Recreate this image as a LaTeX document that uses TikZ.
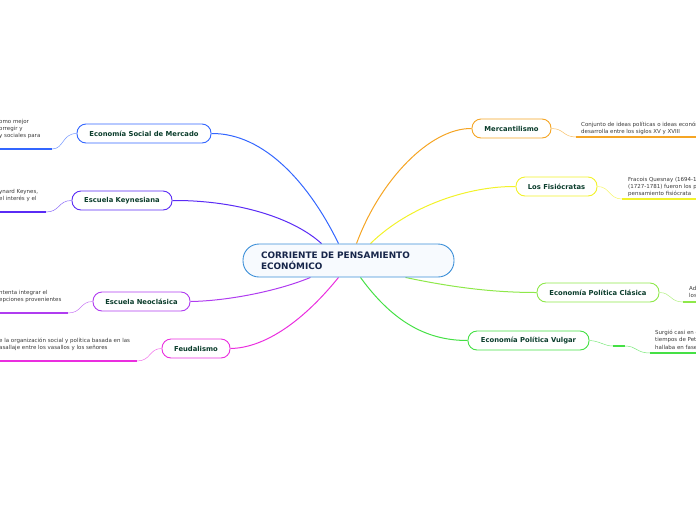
\documentclass[tikz,border=0pt]{standalone}
\usepackage{fontspec}
\setmainfont{DejaVu Sans}
\usetikzlibrary{backgrounds}
\definecolor{labgreen}{HTML}{0B3D2C}
\definecolor{navy}{HTML}{17264A}
\definecolor{leafgray}{HTML}{3A3A3A}
\definecolor{cblue}{HTML}{3C8FD8}
\definecolor{cfill}{HTML}{F7FAFE}
\definecolor{csoc}{HTML}{3366FF}
\definecolor{ckey}{HTML}{5A2BF5}
\definecolor{cneo}{HTML}{B03CF0}
\definecolor{cfeu}{HTML}{EA2EDF}
\definecolor{cmer}{HTML}{F5A524}
\definecolor{cfis}{HTML}{F2F22A}
\definecolor{ccla}{HTML}{8EE84A}
\definecolor{cvul}{HTML}{45E045}
\begin{document}
\begin{tikzpicture}[x=1pt,y=-1pt,
  topic/.style={draw=#1, line width=0.9pt, fill=white, rounded corners=9pt,
    minimum height=19pt, inner sep=0pt, text=labgreen,
    font=\fontsize{6.8}{7.5}\selectfont\bfseries},
  link/.style={draw=#1, line width=1pt},
  twig/.style={draw=#1!70, line width=0.5pt},
  under/.style={draw=#1, line width=1.5pt},
  leaf/.style={font=\fontsize{5.5}{7.2}\selectfont, text=leafgray, align=left,
    inner sep=0pt, anchor=north west}]
\useasboundingbox (0,0) rectangle (696,520);
\clip (0,0) rectangle (696,520);

% central node
\node[draw=cblue, line width=0.9pt, fill=cfill, rounded corners=16pt,
  minimum height=33pt, text width=175pt, inner xsep=18pt, inner ysep=0pt,
  align=left, text=navy, font=\fontsize{8.9}{11}\selectfont\bfseries]
  (c) at (348.5,260.5) {CORRIENTE DE PENSAMIENTO\\ECONÓMICO};

% main topics
\node[topic=csoc, minimum width=134pt] (soc) at (144,133.5) {Economía Social de Mercado};
\node[topic=ckey, minimum width=100pt] (key) at (122,200.5) {Escuela Keynesiana};
\node[topic=cneo, minimum width=97pt] (neo) at (141.5,301.5) {Escuela Neoclásica};
\node[topic=cfeu, minimum width=68pt] (feu) at (196,348.5) {Feudalismo};
\node[topic=cmer, minimum width=79pt] (mer) at (511.5,128.5) {Mercantilismo};
\node[topic=cfis, minimum width=81pt] (fis) at (556.5,186.5) {Los Fisiócratas};
\node[topic=ccla, minimum width=122pt] (cla) at (598,292.5) {Economía Política Clásica};
\node[topic=cvul, minimum width=121pt] (vul) at (528.5,340.5) {Economía Política Vulgar};

% connectors from the centre
\begin{scope}[on background layer]
\draw[link=csoc] ([xshift=-10pt]c.north) .. controls (310,185) and (265,133) .. (soc.east);
\draw[link=ckey] ([xshift=-27pt]c.north) .. controls (290,215) and (230,200) .. (key.east);
\draw[link=cneo] ([xshift=-38pt]c.south) .. controls (275,292) and (225,301) .. (neo.east);
\draw[link=cfeu] ([xshift=-10pt]c.south) .. controls (300,325) and (262,348) .. (feu.east);
\draw[link=cmer] ([xshift=8pt]c.north) .. controls (380,180) and (430,128) .. (mer.west);
\draw[link=cfis] ([xshift=22pt]c.north) .. controls (410,205) and (470,186) .. (fis.west);
\draw[link=ccla] ([xshift=57pt]c.south) .. controls (460,289) and (500,292.5) .. (cla.west);
\draw[link=cvul] ([xshift=12pt]c.south) .. controls (395,325) and (430,340.5) .. (vul.west);
\end{scope}

% leaf anchors
\coordinate (socL) at (52,149);  \coordinate (socE) at (-2,149);
\coordinate (keyL) at (46,212);  \coordinate (keyE) at (-2,212);
\coordinate (neoL) at (68,313);  \coordinate (neoE) at (-2,313);
\coordinate (feuL) at (137,361); \coordinate (feuE) at (-2,361);
\coordinate (merL) at (576,137); \coordinate (merE) at (700,137);
\coordinate (fisL) at (622,199); \coordinate (fisE) at (700,199);
\coordinate (claL) at (683,302); \coordinate (claE) at (700,302);
\coordinate (vulL) at (650,353); \coordinate (vulE) at (700,353);
\coordinate (vulA) at (613,346); \coordinate (vulB) at (625,346);

% twigs and underlines
\draw[twig=csoc] (soc.west) .. controls (62,133.5) and (64,149) .. (socL);
\draw[under=csoc] (socL) -- (socE);
\draw[twig=ckey] (key.west) .. controls (58,200.5) and (60,212) .. (keyL);
\draw[under=ckey] (keyL) -- (keyE);
\draw[twig=cneo] (neo.west) .. controls (80,301.5) and (82,313) .. (neoL);
\draw[under=cneo] (neoL) -- (neoE);
\draw[twig=cfeu] (feu.west) .. controls (149,348.5) and (151,361) .. (feuL);
\draw[under=cfeu] (feuL) -- (feuE);
\draw[twig=cmer] (mer.east) .. controls (564,128.5) and (563,137) .. (merL);
\draw[under=cmer] (merL) -- (merE);
\draw[twig=cfis] (fis.east) .. controls (610,186.5) and (609,199) .. (fisL);
\draw[under=cfis] (fisL) -- (fisE);
\draw[twig=ccla] (cla.east) .. controls (671,292.5) and (670,302) .. (claL);
\draw[under=ccla] (claL) -- (claE);
\draw[twig=cvul] (vul.east) .. controls (600,341) and (604,346) .. (vulA);
\draw[under=cvul] (vulA) -- (vulB);
\draw[twig=cvul] (vulB) .. controls (637,346) and (636,353) .. (vulL);
\draw[under=cvul] (vulL) -- (vulE);

% leaf texts
\node[leaf] (socT) at (-1,119) {omo mejor\\orregir y\\y sociales para};
\node[leaf] (keyT) at (-1,189) {ynard Keynes,\\ el interés y el};
\node[leaf] (neoT) at (-1,290) {ntenta integrar el\\epciones provenientes};
\node[leaf] (feuT) at (-1,337.5) {e la organización social y política basada en las\\asallaje entre los vasallos y los señores};
\node[leaf] (merT) at (581,122) {Conjunto de ideas políticas o ideas económicas que se\\desarrolla entre los siglos XV y XVIII};
\node[leaf] (fisT) at (628,177) {Fracois Quesnay (1694-1774)\\(1727-1781) fueron los principales\\pensamiento fisiócrata};
\node[leaf] (claT) at (689,286) {Adam Smith\\los};
\node[leaf] (vulT) at (655,330) {Surgió casi en el\\tiempos de Petty\\hallaba en fase};
\end{tikzpicture}
\end{document}
